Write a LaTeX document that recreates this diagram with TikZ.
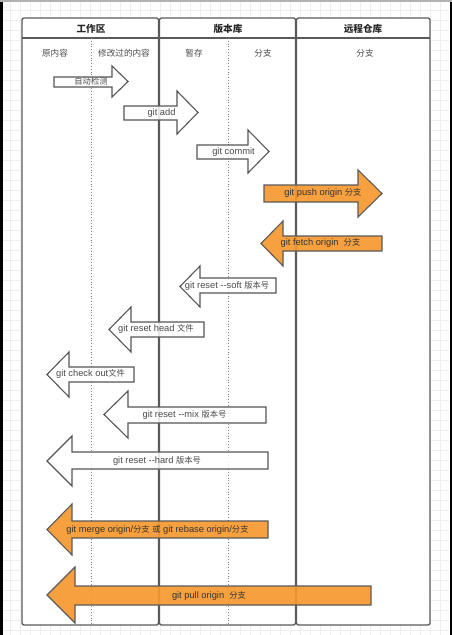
\documentclass[tikz,border=0pt]{standalone}
\usepackage{fontspec}
\setmainfont{Liberation Sans}
\newfontfamily\cjk{Noto Sans CJK SC}
\definecolor{lanegray}{HTML}{5A5A5A}
\definecolor{arrgray}{HTML}{555555}
\definecolor{txtgray}{HTML}{4A4A4A}
\definecolor{gorange}{HTML}{F7982F}
\definecolor{gridc}{HTML}{EFEFEF}
\newcommand\zh[1]{{\cjk\fontsize{8.3}{9}\selectfont #1}}
\newcommand\rblock[8]{%
  \draw[#8] (#1,#4) -- (#2,#4) -- (#2,#6) -- (#3,{(#6+#7)/2}) -- (#2,#7) -- (#2,#5) -- (#1,#5) -- cycle;}
\tikzset{
  lane/.style={draw=lanegray, line width=1.3pt, fill=white, rounded corners=2pt},
  divline/.style={draw=lanegray, line width=1.1pt},
  dotline/.style={draw=gray, line width=0.8pt, dotted},
  whitearrow/.style={draw=arrgray, line width=1.1pt, fill=white, fill opacity=0.85},
  orangearrow/.style={draw=lanegray, line width=1.1pt, fill=gorange, fill opacity=0.92},
  hdr/.style={font=\cjk\fontsize{9.6}{11}\selectfont\bfseries, text=black!85, inner sep=0pt},
  sub/.style={font=\cjk\fontsize{8.6}{10}\selectfont, text=txtgray, inner sep=0pt},
  lbl/.style={font=\fontsize{9.3}{10}\selectfont, text=txtgray, inner sep=0pt},
  olbl/.style={font=\fontsize{9.3}{10}\selectfont, text=black!80, inner sep=0pt},
}
\begin{document}
\begin{tikzpicture}[x=1pt,y=-1pt]
\useasboundingbox (0,0) rectangle (452,635);
% background
\fill[white] (0,0) rectangle (452,635);
\draw[gridc, line width=0.5pt] (3,2) grid[step=10pt] (449,635);
\fill[black] (0,0) rectangle (3,635);
\fill[black] (449.5,0) rectangle (452,635);
\fill[gray!60] (0,0) rectangle (452,2);
% lanes
\draw[lane] (22,18) rectangle (158.5,625);
\draw[lane] (159.5,18) rectangle (295.5,625);
\draw[lane] (296.5,18) rectangle (430,625);
\draw[divline] (22,38) -- (430,38);
\draw[dotline] (91,38) -- (91,625);
\draw[dotline] (228,38) -- (228,625);
% headers
\node[hdr] (h1) at (91,29) {工作区};
\node[hdr] (h2) at (228,29) {版本库};
\node[hdr] (h3) at (363,29) {远程仓库};
\node[sub] (s1) at (55,53) {原内容};
\node[sub] (s2) at (124,53) {修改过的内容};
\node[sub] (s3) at (194,53) {暂存};
\node[sub] (s4) at (263,53) {分支};
\node[sub] (s5) at (365,53) {分支};
% arrows (right-pointing)
\rblock{54}{112}{128}{77}{87}{66}{97}{whitearrow}
\rblock{124}{177}{198}{106}{120}{91}{134}{whitearrow}
\rblock{197}{248}{269}{145}{159}{130}{173}{whitearrow}
\rblock{264}{358}{382}{185}{202}{170}{217}{orangearrow}
% arrows (left-pointing)
\rblock{382}{283}{261}{236}{251}{221}{266}{orangearrow}
\rblock{276}{200}{180}{278}{293}{266}{307}{whitearrow}
\rblock{204}{131}{109}{322}{337}{307}{352}{whitearrow}
\rblock{134}{69}{47}{367}{382}{352}{397}{whitearrow}
\rblock{266}{128}{104}{407}{423}{391}{438}{whitearrow}
\rblock{268}{72}{47}{452}{469}{436}{486}{whitearrow}
\rblock{268}{72}{47}{521}{538}{504}{555}{orangearrow}
\rblock{371}{75}{47}{586}{605}{567}{623}{orangearrow}
% labels
\node[lbl] (a1) at (91,81) {\zh{自动检测}};
\node[lbl] (a2) at (161.5,113) {git add};
\node[lbl] (a3) at (233.5,152) {git commit};
\node[olbl] (a4) at (323,193) {git push origin \zh{分支}};
\node[olbl] (a5) at (320.5,243) {git fetch origin\ \ \zh{分支}};
\node[lbl] (a6) at (227,286) {git reset -{}-soft \zh{版本号}};
\node[lbl] (a7) at (156,329) {git reset head \zh{文件}};
\node[lbl] (a8) at (90.5,374) {git check out\zh{文件}};
\node[lbl] (a9) at (184.5,415) {git reset -{}-mix \zh{版本号}};
\node[lbl] (a10) at (157,461) {git reset -{}-hard \zh{版本号}};
\node[olbl] (a11) at (157.5,530) {git merge origin/\zh{分支} \zh{或} git rebase origin/\zh{分支}};
\node[olbl] (a12) at (209,596) {git pull origin\ \ \zh{分支}};
\end{tikzpicture}
\end{document}
